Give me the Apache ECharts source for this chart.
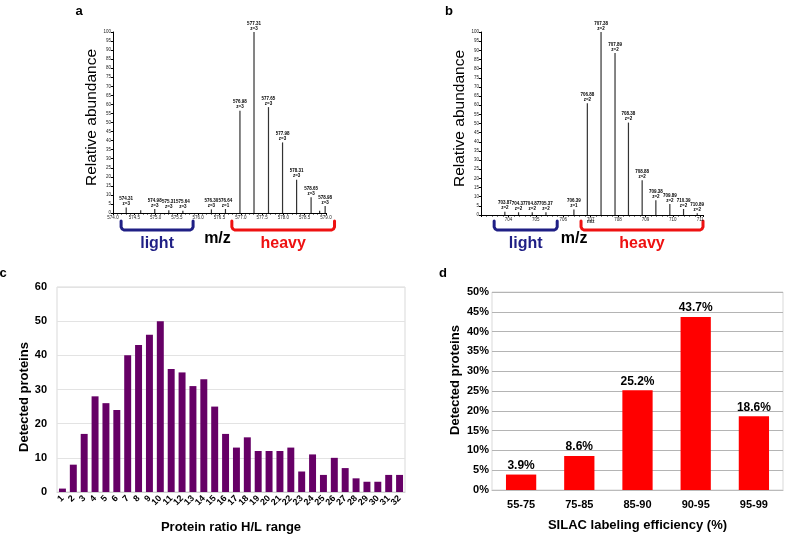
<!DOCTYPE html>
<html><head><meta charset="utf-8">
<script src="https://cdn.jsdelivr.net/npm/echarts@6/dist/echarts.min.js"></script>
<style>html,body{margin:0;padding:0;background:#fff}#c{width:800px;height:539px}</style>
</head><body><div id="c"></div>
<script>
// Panel a spectrum
const mzA = [574.31, 574.65, 574.98, 575.31, 575.64, 576.31, 576.64, 576.98, 577.31, 577.65, 577.98, 578.31, 578.65, 578.85, 578.98];
const intA = [3, 1.5, 2.2, 1.5, 1.3, 2, 2.2, 56.5, 100, 58.5, 39, 18.4, 8.7, 1.2, 3.9];
const labA = ["574.31\nz=3", "", "574.98\nz=3", "575.31\nz=3", "575.64\nz=3", "576.30\nz=3", "576.64\nz=1", "576.98\nz=3", "577.31\nz=3", "577.65\nz=3", "577.98\nz=3", "578.31\nz=3", "578.65\nz=3", "", "578.98\nz=3"];
// Panel b spectrum
const mzB = [703.87, 704.37, 704.87, 705.37, 706.39, 706.88, 707.38, 707.89, 708.38, 708.88, 709.38, 709.89, 710.39, 710.89];
const intB = [1.8, 1.5, 1.5, 1.5, 3, 61, 100, 88.5, 50.5, 19, 8, 6, 3.3, 1];
const labB = ["703.87\nz=2", "704.37\nz=2", "704.87\nz=2", "705.37\nz=2", "706.39\nz=1", "706.88\nz=2", "707.38\nz=2", "707.89\nz=2", "708.38\nz=2", "708.88\nz=2", "709.38\nz=2", "709.89\nz=2", "710.39\nz=2", "710.89\nz=2"];
// Panel c
const catC = ["1","2","3","4","5","6","7","8","9","10","11","12","13","14","15","16","17","18","19","20","21","22","23","24","25","26","27","28","29","30","31","32"];
const valC = [1, 8, 17, 28, 26, 24, 40, 43, 46, 50, 36, 35, 31, 33, 25, 17, 13, 16, 12, 12, 12, 13, 6, 11, 5, 10, 7, 4, 3, 3, 5, 5];
// Panel d
const catD = ["55-75", "75-85", "85-90", "90-95", "95-99"];
const valD = [3.9, 8.6, 25.2, 43.7, 18.6];
// Bracket ranges (m/z)
const lightA = [574.19, 575.88], heavyA = [576.79, 579.2];
const lightB = [703.48, 705.78], heavyB = [706.65, 711.1];

const FONT = '"Liberation Sans", Arial, sans-serif';
const chart = echarts.init(document.getElementById('c'));

function specX(min, max, interval, fmt, hideFirst) {
  return {
    type: 'value', min: min, max: max, interval: interval,
    axisLine: {lineStyle: {color: '#000', width: 1}},
    axisTick: {length: 2, lineStyle: {color: '#000'}},
    minorTick: {show: true, splitNumber: 5, length: 1.5, lineStyle: {color: '#000'}},
    splitLine: {show: false},
    axisLabel: {fontSize: 4.5, color: '#222', fontFamily: FONT, margin: 2,
      formatter: v => (hideFirst && Math.abs(v - min) < 1e-6) ? '' : fmt(v)}
  };
}
function specY() {
  return {
    type: 'value', min: 0, max: 100, interval: 5,
    name: 'Relative abundance', nameLocation: 'middle', nameGap: 11,
    nameTextStyle: {fontSize: 15.5, fontFamily: FONT, color: '#000', padding: [0, 0, 0, 10]},
    axisLine: {show: true, lineStyle: {color: '#000'}},
    axisTick: {show: true, length: 2, lineStyle: {color: '#000'}},
    splitLine: {show: false},
    axisLabel: {fontSize: 4.5, color: '#222', fontFamily: FONT, margin: 2}
  };
}
function specSeries(idx, mz, it, lab) {
  return {
    type: 'bar', xAxisIndex: idx, yAxisIndex: idx, barWidth: 1.2,
    itemStyle: {color: '#333'},
    data: mz.map((m, i) => [m, it[i]]),
    label: {show: true, position: 'top', distance: 1, fontSize: 4.5, lineHeight: 5, fontWeight: 'bold',
      color: '#000', fontFamily: FONT, formatter: p => lab[p.dataIndex]},
    silent: true, animation: false
  };
}

chart.setOption({
  animation: false,
  textStyle: {fontFamily: FONT},
  grid: [
    {left: 113, top: 32, width: 213, height: 181},
    {left: 481, top: 32, width: 222, height: 183},
    {left: 57, top: 287, width: 348, height: 205, show: true, borderColor: '#d9d9d9', borderWidth: 1},
    {left: 492, top: 292, width: 291, height: 198, show: true, borderColor: '#d9d9d9', borderWidth: 1}
  ],
  xAxis: [
    Object.assign(specX(574, 579, 0.5, v => v.toFixed(1), false), {gridIndex: 0}),
    Object.assign(specX(703, 711.1, 1, v => String(Math.round(v)), true), {gridIndex: 1}),
    {gridIndex: 2, type: 'category', data: catC,
      name: 'Protein ratio H/L range', nameLocation: 'middle', nameGap: 29,
      nameTextStyle: {fontSize: 13, fontWeight: 'bold', color: '#000', fontFamily: FONT},
      axisLine: {lineStyle: {color: '#d0d0d0'}}, axisTick: {show: false},
      axisLabel: {rotate: 45, fontSize: 9, fontWeight: 'bold', color: '#000', interval: 0, margin: 5, fontFamily: FONT}},
    {gridIndex: 3, type: 'category', data: catD,
      name: 'SILAC labeling efficiency (%)', nameLocation: 'middle', nameGap: 29,
      nameTextStyle: {fontSize: 13, fontWeight: 'bold', color: '#000', fontFamily: FONT},
      axisLine: {lineStyle: {color: '#bbb'}}, axisTick: {show: false},
      axisLabel: {fontSize: 11, fontWeight: 'bold', color: '#000', margin: 9, fontFamily: FONT}}
  ],
  yAxis: [
    Object.assign(specY(), {gridIndex: 0}),
    Object.assign(specY(), {gridIndex: 1}),
    {gridIndex: 2, type: 'value', min: 0, max: 60, interval: 10,
      name: 'Detected proteins', nameLocation: 'middle', nameGap: 25,
      nameTextStyle: {fontSize: 13, fontWeight: 'bold', color: '#000', fontFamily: FONT, padding: [0, 15, 0, 0]},
      axisLine: {show: false}, axisTick: {show: false},
      splitLine: {lineStyle: {color: '#e3e3e3'}},
      axisLabel: {fontSize: 11, fontWeight: 'bold', color: '#000', margin: 10, fontFamily: FONT}},
    {gridIndex: 3, type: 'value', min: 0, max: 50, interval: 5,
      name: 'Detected proteins', nameLocation: 'middle', nameGap: 30,
      nameTextStyle: {fontSize: 13, fontWeight: 'bold', color: '#000', fontFamily: FONT, padding: [0, 0, 0, 22]},
      axisLine: {show: false}, axisTick: {show: false},
      splitLine: {lineStyle: {color: '#b4b4b4'}},
      axisLabel: {fontSize: 11, fontWeight: 'bold', color: '#000', margin: 3, fontFamily: FONT, formatter: '{value}%'}}
  ],
  series: [
    specSeries(0, mzA, intA, labA),
    specSeries(1, mzB, intB, labB),
    {type: 'bar', xAxisIndex: 2, yAxisIndex: 2, data: valC, barCategoryGap: '36%',
      itemStyle: {color: '#660066'}},
    {type: 'bar', xAxisIndex: 3, yAxisIndex: 3, data: valD, barCategoryGap: '48%',
      itemStyle: {color: '#ff0000'},
      label: {show: true, position: 'top', distance: 3, fontSize: 12, fontWeight: 'bold', color: '#000',
        fontFamily: FONT, formatter: p => p.value.toFixed(1) + '%'}}
  ]
});

function bracket(gi, range, color) {
  const x1 = chart.convertToPixel({gridIndex: gi}, [range[0], 0])[0];
  const x2 = chart.convertToPixel({gridIndex: gi}, [range[1], 0])[0];
  const yT = 221, yB = 230;
  return {type: 'polyline', silent: true,
    shape: {points: [[x1, yT], [x1, yB - 3], [x1 + 1, yB - 1], [x1 + 3, yB], [x2 - 3, yB], [x2 - 1, yB - 1], [x2, yB - 3], [x2, yT]]},
    style: {stroke: color, lineWidth: 3, fill: null, lineCap: 'round'}};
}
function txt(x, y, t, size, color, align) {
  return {type: 'text', x: x, y: y, silent: true,
    style: {text: t, font: 'bold ' + size + 'px ' + FONT, fill: color, align: align || 'center', verticalAlign: 'middle'}};
}
const BLUE = '#1f1f85', RED = '#ee1111';
const midA = [(lightA[0] + lightA[1]) / 2, (heavyA[0] + heavyA[1]) / 2];
const midB = [(lightB[0] + lightB[1]) / 2, (heavyB[0] + heavyB[1]) / 2];
const px = (gi, v) => chart.convertToPixel({gridIndex: gi}, [v, 0])[0];
chart.setOption({graphic: [
  bracket(0, lightA, BLUE), bracket(0, heavyA, RED),
  bracket(1, lightB, BLUE), bracket(1, heavyB, RED),
  txt(px(0, midA[0]), 244, 'light', 16, BLUE), txt(px(0, midA[1]), 244, 'heavy', 16, RED),
  txt((px(0, lightA[1]) + px(0, heavyA[0])) / 2 + 5, 239, 'm/z', 16, '#000'),
  txt(px(1, midB[0]), 244, 'light', 16, BLUE), txt(px(1, midB[1]), 244, 'heavy', 16, RED),
  txt((px(1, lightB[1]) + px(1, heavyB[0])) / 2 + 5, 239, 'm/z', 16, '#000'),
  txt(px(1, 707), 222, 'm/z', 4.5, '#222'),
  txt(79, 11, 'a', 13, '#000'), txt(449, 11, 'b', 13, '#000'),
  txt(3, 273, 'c', 13, '#000'), txt(443, 273, 'd', 13, '#000')
]});
</script></body></html>
